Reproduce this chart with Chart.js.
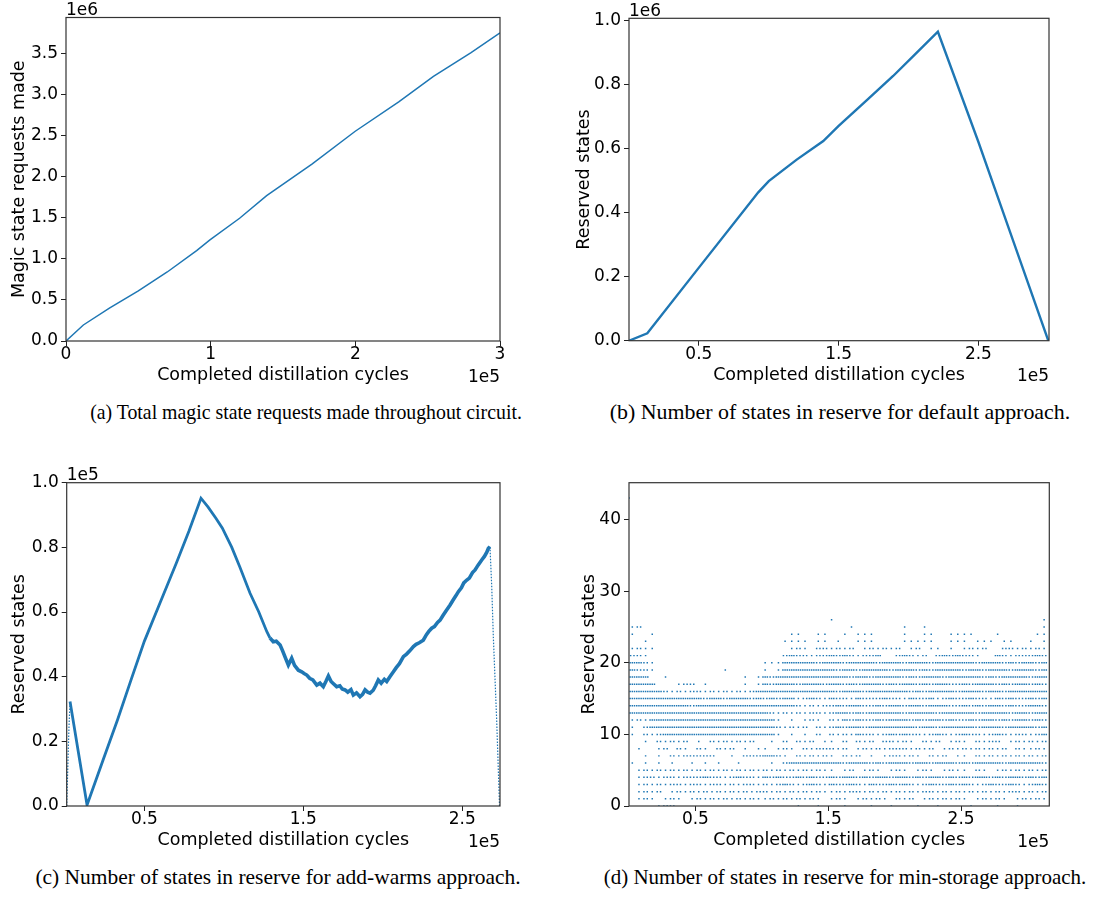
<!DOCTYPE html>
<html>
<head>
<meta charset="utf-8">
<script src="https://cdn.jsdelivr.net/npm/chart.js@4.4.1/dist/chart.umd.min.js"></script>
<style>
  body { margin: 0; background: #fff; width: 1100px; height: 899px; position: relative; overflow: hidden; }
  canvas { position: absolute; }
  .cap { position: absolute; font-family: "Liberation Serif", serif; font-size: 21px; line-height: 21px;
         white-space: nowrap; transform: translateX(-50%); color: #000; }
</style>
</head>
<body>
<canvas id="chartA" width="550" height="400" style="left:0;top:0"></canvas>
<canvas id="chartB" width="550" height="400" style="left:550px;top:0"></canvas>
<canvas id="chartC" width="550" height="400" style="left:0;top:465px"></canvas>
<canvas id="chartD" width="550" height="400" style="left:550px;top:465px"></canvas>
<div class="cap" data-w="432" style="left:306px;top:402px">(a) Total magic state requests made throughout circuit.</div>
<div class="cap" data-w="460" style="left:840px;top:402px">(b) Number of states in reserve for default approach.</div>
<div class="cap" data-w="485" style="left:278px;top:867px">(c) Number of states in reserve for add-warms approach.</div>
<div class="cap" data-w="482" style="left:845px;top:867px">(d) Number of states in reserve for min-storage approach.</div>
<script>
// x values in units of 1e5 cycles, y in units of the axis offset (1e6 / 1e5 / 1)
const requestsMade = [[0, 0], [0.12, 0.195], [0.3, 0.4], [0.5, 0.61], [0.7, 0.84], [0.903, 1.1],
  [0.995, 1.23], [1.2, 1.494], [1.387, 1.77], [1.7, 2.154], [1.997, 2.55], [2.3, 2.91],
  [2.54, 3.22], [2.8, 3.51], [3.0, 3.75]];

const defaultReserve = [[0, 0], [0.131, 0.023], [0.5, 0.228], [0.925, 0.463], [1.0, 0.498],
  [1.2, 0.565], [1.39, 0.623], [1.5, 0.67], [1.7, 0.75], [1.89, 0.826], [2.05, 0.895],
  [2.21, 0.964], [2.5, 0.62], [2.75, 0.31], [3.0, 0.0]];

const addWarmsReserve = [[0.011, 0.0], [0.018, 0.12], [0.025, 0.24], [0.032, 0.323], [0.139, 0.003],
  [0.24, 0.142], [0.33, 0.265], [0.416, 0.39], [0.5, 0.51], [0.6, 0.63], [0.7, 0.75], [0.78, 0.85],
  [0.856, 0.952], [0.9, 0.925], [0.95, 0.89], [0.99, 0.86], [1.05, 0.8], [1.1, 0.74], [1.165, 0.658],
  [1.22, 0.6], [1.27, 0.54], [1.29, 0.52], [1.311, 0.508], [1.33, 0.51], [1.354, 0.498], [1.37, 0.48],
  [1.39, 0.455], [1.406, 0.436], [1.427, 0.457], [1.445, 0.435], [1.469, 0.42], [1.49, 0.415],
  [1.505, 0.41], [1.522, 0.405], [1.54, 0.395], [1.56, 0.39], [1.585, 0.374], [1.605, 0.38],
  [1.626, 0.369], [1.642, 0.385], [1.658, 0.402], [1.675, 0.385], [1.69, 0.378], [1.71, 0.369],
  [1.73, 0.372], [1.745, 0.362], [1.763, 0.359], [1.78, 0.352], [1.8, 0.36], [1.815, 0.343],
  [1.835, 0.35], [1.857, 0.338], [1.873, 0.345], [1.889, 0.359], [1.905, 0.352], [1.92, 0.349],
  [1.94, 0.358], [1.955, 0.372], [1.972, 0.39], [1.99, 0.38], [2.01, 0.392], [2.025, 0.385],
  [2.045, 0.4], [2.067, 0.415], [2.085, 0.428], [2.105, 0.44], [2.13, 0.462], [2.15, 0.47],
  [2.17, 0.48], [2.193, 0.493], [2.21, 0.5], [2.23, 0.505], [2.255, 0.513], [2.275, 0.53],
  [2.29, 0.54], [2.308, 0.55], [2.325, 0.555], [2.345, 0.568], [2.361, 0.575], [2.38, 0.59],
  [2.4, 0.605], [2.424, 0.622], [2.44, 0.635], [2.46, 0.65], [2.476, 0.663], [2.495, 0.675],
  [2.51, 0.69], [2.529, 0.699], [2.545, 0.705], [2.565, 0.722], [2.581, 0.73], [2.6, 0.745],
  [2.623, 0.761], [2.64, 0.772], [2.655, 0.785], [2.665, 0.797], [2.675, 0.802], [2.686, 0.678],
  [2.696, 0.524], [2.717, 0.266], [2.735, 0.0]];

// min-storage: one string per reserve level, one char per 0.05e5-cycle cell
// ' ' none, '.' few, ':' some, '#' dense   (groups of 10 cells split by |)
const minStorageLevels = [26, 25, 24, 23, 22, 21, 20, 19, 18, 17, 16, 15, 14, 13, 12, 11, 10, 9, 8, 7, 6, 5, 4, 3, 2, 1, 0];
const minStorageRows = [
  "          |          |          |.         |          |          |  .",
  ".:        |          |          |   .      | .  .     |          |  .",
  ".  .      |          |    ..  ..|  . ...   | .  ..  ..|..   .    | ..",
  "  .       |          |   .... ..| .  ...   | .....  ..|. ... ..  |. .",
  ".:..      |          |    .:. ::|.:.: .:.:.|: .: .. . |.:.:  ::.:|.:.",
  "::.       |          |   :#::.::|#:#:.::#  |:#:.: :#:#|::.  #:.::|:#:",
  "##:.      |          |...#####:#|##:####:##|#:###:####|##:###:#:#|#:#",
  "#::.      |    .     |. .#######|#:##:####:|###:#:####|:##:###:##|#:#",
  "###  .    |       . .|#:########|###:##:###|#:#:###:##|###:#:####|:##",
  "####   .::| .     . .|#:###:###:|##:#:###:#|:##:#:##::|#:###:#:##|:#:",
  "#####:.:.:|:.:.:.:.:#|##########|#:###:####|##:#:####:|###:##:###|###",
  "##########|#:##:###:#|:#:##.:#:.|#::.#:::#:|:.#::#.:#:|:#::.#:#::|#:#",
  "#########:|##########|#####:.:.:|:#:##::#:#|#:##:###::|#:#:##:#::|##:",
  "##########|##########|#:.:.:.::.|:##:#:####|#:####:###|##:####:##|:##",
  ".:.#######|##########|##. . .:. |:.#:#::#:#|##:#:##:#:|:#:##:#:##|:#:",
  ". :#######|##########|##:.:.: :.|:#:##:####|###:##:###|##:###:###|#:#",
  ". :.:#####|##########|##. . . : |:.:.#::.:#|:#::.:#:.:|#::.:#:.::|.:#",
  "  . :.:.: |. :.:.:.: | . : :.: .|. : :.: ::|.:. :.: .:|. :.:: .:.|:.:",
  " .  .: :. |:. :.: . .|. .:. :.::|:.: .:.:.:|::.:.: .:.|:.:.:.: :.|.:.",
  "  . . :.::|:::  . :::|##:. :.:.:|. :.: . .:|:.:. :.: .|. :.:.:.:.|:.:",
  ". . . .  .| . .  .   | . :######|##:###:#:#|##:##:###:|#:####:###|##:",
  " .:.:.:.:.|:.:.:.:.:.|:.:.:.:.:.|. .: .:. .|:. .:. .:.|. :. .:.:.|:.:",
  " .::.::.::|:#::.:#::.|#:#::#:#::|#:##:#:##:|##:#:##:#:|#:##:#:##:|#:#",
  " .:.:.::.:|:.::.:.::.|:.:#:.:#:.|#::#:.#::#|:#:.:#::#:|#:.:#::#:.|:#:",
  " .:.: .:.:|.:.:.:.:.:|:.:.:.:.:.|.:.::.:.:.|:.:.::.:.:|.:.:.:.::.|:.:",
  " .:. .:. .|:.:.:.:.:.|.:.:.:.:. |.:. .:.:. |:.: .:.:.:|. .:.:. .:|.:.",
  "    .::   |          |     .  . |  .   .  .|   .  .   | .   .  . |   "
];
const minStorageOutliers = [[0.0, 43]];
const cellWidth = 0.05;

const blue = '#1f77b4';
Chart.defaults.font.family = '"DejaVu Sans"';
Chart.defaults.color = '#000';

const dotOffsets = { '.': [0.5], ':': [0.25, 0.75], '#': [0.17, 0.5, 0.83] };
function rowPoints(level, row) {
  const pts = [];
  row.split('|').forEach((group, gi) => {
    [...group].forEach((ch, j) => {
      const offs = dotOffsets[ch];
      if (!offs) return;
      const cell = gi * 10 + j;
      offs.forEach(o => pts.push({ x: (cell + o) * cellWidth, y: level }));
    });
  });
  return pts;
}

const framePlugin = {
  id: 'frame',
  afterDatasetsDraw(chart, args, opts) {
    const { ctx, chartArea: a } = chart;
    ctx.save();
    ctx.strokeStyle = '#333';
    ctx.lineWidth = 1.2;
    ctx.strokeRect(a.left, a.top, a.right - a.left, a.bottom - a.top);
    ctx.fillStyle = '#000';
    ctx.font = '17px "DejaVu Sans"';
    ctx.textBaseline = 'alphabetic';
    if (opts.yOffset) {
      ctx.textAlign = 'left';
      ctx.fillText(opts.yOffset, a.left, a.top - 2.5);
    }
    if (opts.xOffset) {
      ctx.textAlign = 'right';
      ctx.fillText(opts.xOffset, a.right, a.bottom + 40.7);
    }
    ctx.restore();
  }
};

function lineSet(points, width, segment) {
  return {
    data: points.map(([x, y]) => ({ x, y })),
    borderColor: blue, borderWidth: width, pointRadius: 0, tension: 0, fill: false,
    segment: segment || {}
  };
}

function makePanel(id, cfg) {
  const tickFont = { size: 17, lineHeight: 1 };
  const titleFont = { size: 17.5 };
  const grid = { display: true, drawOnChartArea: false, drawTicks: true, tickLength: 5, color: '#222', tickWidth: 1 };
  return new Chart(document.getElementById(id), {
    type: 'line',
    data: { datasets: cfg.datasets },
    options: {
      responsive: false, animation: false, devicePixelRatio: 1,
      layout: { padding: { left: 0, right: cfg.padRight, top: cfg.padTop, bottom: 0 } },
      plugins: {
        legend: { display: false }, tooltip: { enabled: false },
        frame: { xOffset: '1e5', yOffset: cfg.yOffset }
      },
      scales: {
        x: {
          type: 'linear', min: cfg.xMin, max: cfg.xMax,
          afterFit: s => { s.height = 400 - cfg.bottom; },
          afterBuildTicks: s => { s.ticks = cfg.xTicks.map(v => ({ value: v })); },
          ticks: { font: tickFont, padding: 0, maxRotation: 0, autoSkip: false, callback: cfg.xFmt },
          grid, border: { display: false },
          title: { display: true, text: 'Completed distillation cycles', font: titleFont, padding: { top: 0, bottom: 13.8 } }
        },
        y: {
          type: 'linear', min: 0, max: cfg.yMax,
          afterFit: s => { s.width = cfg.left; },
          afterBuildTicks: s => { s.ticks = cfg.yTicks.map(v => ({ value: v })); },
          ticks: { font: tickFont, padding: 3, autoSkip: false, callback: cfg.yFmt },
          grid, border: { display: false },
          title: { display: true, text: cfg.yTitle, font: titleFont, padding: { top: cfg.yTitlePad, bottom: 0 } }
        }
      }
    },
    plugins: [framePlugin]
  });
}

const oneDec = v => v.toFixed(1);
const plain = v => String(v);

makePanel('chartA', {
  datasets: [lineSet(requestsMade, 1.5)],
  left: 66, padRight: 50, padTop: 17.5, bottom: 341,
  xMin: 0, xMax: 3, yMax: 3.9375,
  xTicks: [0, 1, 2, 3], yTicks: [0, 0.5, 1, 1.5, 2, 2.5, 3, 3.5],
  xFmt: plain, yFmt: oneDec, yOffset: '1e6',
  yTitle: 'Magic state requests made', yTitlePad: 8.5
});

makePanel('chartB', {
  datasets: [lineSet(defaultReserve, 2.4)],
  left: 79, padRight: 51, padTop: 18.3, bottom: 340.7,
  xMin: 0, xMax: 3.005, yMax: 1.006,
  xTicks: [0.5, 1.5, 2.5], yTicks: [0, 0.2, 0.4, 0.6, 0.8, 1.0],
  xFmt: oneDec, yFmt: oneDec, yOffset: '1e6',
  yTitle: 'Reserved states', yTitlePad: 23.5
});

// sparse sampled jumps at both ends are drawn thin and dotted, the noisy middle as a wide band
const addWarmsSegment = {
  borderWidth: c => (c.p1.parsed.x <= 0.032 || c.p0.parsed.x >= 2.675) ? 1.2
    : (c.p0.parsed.x >= 1.29 ? 3.6 : 2.8),
  borderDash: c => (c.p1.parsed.x <= 0.032 || c.p0.parsed.x >= 2.675) ? [1.5, 1.5] : undefined
};

makePanel('chartC', {
  datasets: [lineSet(addWarmsReserve, 2.8, addWarmsSegment)],
  left: 66.7, padRight: 50, padTop: 17.7, bottom: 341,
  xMin: 0.011, xMax: 2.738, yMax: 1.0,
  xTicks: [0.5, 1.5, 2.5], yTicks: [0, 0.2, 0.4, 0.6, 0.8, 1.0],
  xFmt: oneDec, yFmt: oneDec, yOffset: '1e5',
  yTitle: 'Reserved states', yTitlePad: 8.5
});

const minStoragePoints = [];
minStorageLevels.forEach((lvl, i) => minStoragePoints.push(...rowPoints(lvl, minStorageRows[i])));
minStorageOutliers.forEach(([x, y]) => minStoragePoints.push({ x, y }));

makePanel('chartD', {
  datasets: [{
    type: 'scatter', data: minStoragePoints, showLine: false,
    pointStyle: 'rect', pointRadius: 1.05, pointBorderWidth: 0, borderWidth: 0,
    backgroundColor: blue, pointBackgroundColor: blue
  }],
  left: 79, padRight: 50.7, padTop: 17.7, bottom: 341,
  xMin: 0, xMax: 3.164, yMax: 45.15,
  xTicks: [0.5, 1.5, 2.5], yTicks: [0, 10, 20, 30, 40],
  xFmt: oneDec, yFmt: plain, yOffset: null,
  yTitle: 'Reserved states', yTitlePad: 28.5
});

// stretch each caption to the width it has in the figure
document.querySelectorAll('.cap').forEach(el => {
  const w = el.offsetWidth;
  el.style.transform = 'translateX(-50%) scaleX(' + (+el.dataset.w / w) + ')';
});
</script>
</body>
</html>
